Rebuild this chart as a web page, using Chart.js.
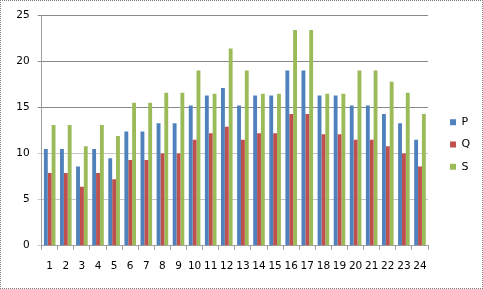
<!DOCTYPE html>
<html lang="en">
<head>
  <meta charset="UTF-8">
  <title>P Q S</title>
  <script src="https://cdn.jsdelivr.net/npm/chart.js"></script>
  <style>
    html, body { margin: 0; padding: 0; background: #fff; }
    .frame {
      width: 483px;
      height: 289px;
      box-sizing: border-box;
      border: 1px dotted #7a7a7a;
    }
  </style>
</head>
<body>
  <div class="frame">
    <canvas id="chart" width="481" height="287"></canvas>
  </div>

  <script>
    // categories 1..24
    const categories = ['1','2','3','4','5','6','7','8','9','10','11','12',
                        '13','14','15','16','17','18','19','20','21','22','23','24'];
    const seriesP = [10.5, 10.5, 8.6, 10.5, 9.5, 12.4, 12.4, 13.3, 13.3, 15.2, 16.3, 17.1,
                     15.2, 16.3, 16.3, 19.0, 19.0, 16.3, 16.3, 15.2, 15.2, 14.3, 13.3, 11.5];
    const seriesQ = [7.9, 7.9, 6.4, 7.9, 7.2, 9.3, 9.3, 10.0, 10.0, 11.5, 12.2, 12.9,
                     11.5, 12.2, 12.2, 14.3, 14.3, 12.1, 12.1, 11.5, 11.5, 10.8, 10.0, 8.6];
    const seriesS = [13.1, 13.1, 10.8, 13.1, 11.9, 15.5, 15.5, 16.6, 16.6, 19.0, 16.5, 21.4,
                     19.0, 16.5, 16.5, 23.4, 23.4, 16.5, 16.5, 19.0, 19.0, 17.8, 16.6, 14.3];
    const yTicks = [0, 5, 10, 15, 20, 25];

    Chart.defaults.font.family = 'DejaVu Sans, sans-serif';
    Chart.defaults.font.size = 10.5;
    Chart.defaults.color = '#000';

    // nudge the legend: a little right of the plot, a little up
    const legendShift = {
      id: 'legendShift',
      afterLayout(chart) {
        const lg = chart.legend;
        lg.left += 10.7;
        lg.right += 10.7;
        lg.top -= 3.1;
        lg.bottom -= 3.1;
      }
    };

    const ctx = document.getElementById('chart').getContext('2d');
    new Chart(ctx, {
      type: 'bar',
      data: {
        labels: categories,
        datasets: [
          { label: 'P', data: seriesP, backgroundColor: '#4F81BD' },
          { label: 'Q', data: seriesQ, backgroundColor: '#C0504D' },
          { label: 'S', data: seriesS, backgroundColor: '#9BBB59' }
        ]
      },
      options: {
        responsive: false,
        animation: false,
        barPercentage: 1.0,
        categoryPercentage: 0.72,
        layout: { padding: { left: 7.3, top: 11.3, right: 12.5, bottom: 5.1 } },
        plugins: {
          tooltip: { enabled: false },
          legend: {
            position: 'right',
            labels: {
              boxWidth: 6,
              boxHeight: 6,
              padding: 11.3,
              font: { size: 11 }
            }
          }
        },
        scales: {
          x: {
            grid: {
              offset: true,
              drawOnChartArea: false,
              drawTicks: true,
              tickLength: 4,
              color: '#a0a0a0'
            },
            border: { color: '#a0a0a0' },
            ticks: { padding: 10.3, maxRotation: 0, autoSkip: false }
          },
          y: {
            min: 0,
            max: 25,
            afterBuildTicks: axis => { axis.ticks = yTicks.map(v => ({ value: v })); },
            grid: {
              tickLength: 4,
              color: c => (c.tick && c.tick.value >= 15) ? '#8a8a8a' : '#c6c6c6'
            },
            border: { color: '#a0a0a0' },
            ticks: { padding: 8 }
          }
        }
      },
      plugins: [legendShift]
    });
  </script>
</body>
</html>
